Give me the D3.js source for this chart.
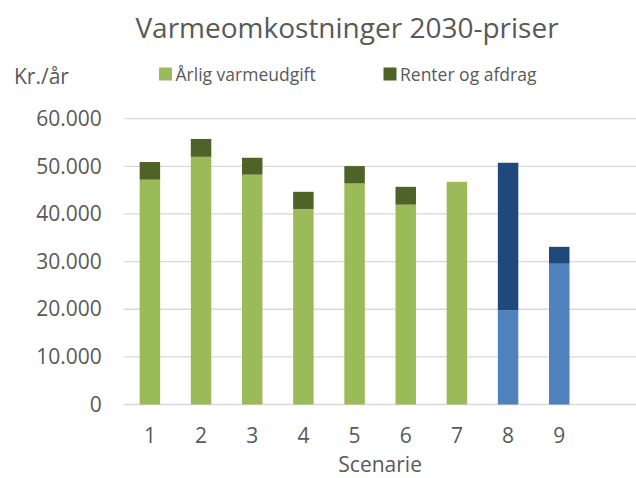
<!DOCTYPE html>
<html>
<head>
<meta charset="utf-8">
<script src="https://cdn.jsdelivr.net/npm/d3@7"></script>
<style>
  body { margin: 0; background: #fff; }
  text { font-family: 'Open Sans', sans-serif; fill: #595959; }
</style>
</head>
<body>
<div id="chart"></div>
<script>
const WIDTH = 636;
const HEIGHT = 478;
const PLOT = { LEFT: 124.3, RIGHT: 636, TOP: 118.7, BOTTOM: 404.5 };

// data
const scenarier = ['1', '2', '3', '4', '5', '6', '7', '8', '9', ''];
const aarligVarmeudgift = [47200, 52000, 48250, 41050, 46400, 41950, 46750, 19750, 29550];
const renterOgAfdrag = [3700, 3750, 3550, 3600, 3650, 3750, 0, 31000, 3550];
const blaaScenarier = ['8', '9'];
const yTicks = [0, 10000, 20000, 30000, 40000, 50000, 60000];
const serier = ['Årlig varmeudgift', 'Renter og afdrag'];

const GREEN = '#9bbb59';
const DARK_GREEN = '#4f6228';
const BLUE = '#4f81bd';
const DARK_BLUE = '#1f497d';

const fmt = d3.formatLocale({ decimal: ',', thousands: '.', grouping: [3], currency: ['', ''] }).format(',');

const svg = d3.select('#chart')
  .append('svg')
    .attr('width', WIDTH)
    .attr('height', HEIGHT);

const x = d3.scaleBand()
  .domain(scenarier)
  .range([PLOT.LEFT, PLOT.RIGHT])
  .paddingInner(0.6)
  .paddingOuter(0.3);

const y = d3.scaleLinear()
  .domain([0, 60000])
  .range([PLOT.BOTTOM, PLOT.TOP]);

// gridlines
svg.append('g')
  .selectAll('line')
  .data(yTicks)
  .enter()
  .append('line')
    .attr('x1', PLOT.LEFT)
    .attr('x2', PLOT.RIGHT)
    .attr('y1', d => y(d))
    .attr('y2', d => y(d))
    .attr('stroke', '#d9d9d9')
    .attr('stroke-width', 1.3);

// stacked bars
const rows = aarligVarmeudgift.map((v, i) => ({
  scenarie: scenarier[i],
  base: v,
  top: renterOgAfdrag[i],
  blaa: blaaScenarier.includes(scenarier[i])
}));

const bars = svg.append('g')
  .selectAll('g')
  .data(rows)
  .enter()
  .append('g');

bars.append('rect')
  .attr('x', d => x(d.scenarie))
  .attr('width', x.bandwidth())
  .attr('y', d => y(d.base))
  .attr('height', d => y(0) - y(d.base))
  .attr('fill', d => d.blaa ? BLUE : GREEN);

bars.filter(d => d.top > 0)
  .append('rect')
  .attr('x', d => x(d.scenarie))
  .attr('width', x.bandwidth())
  .attr('y', d => y(d.base + d.top))
  .attr('height', d => y(d.base) - y(d.base + d.top))
  .attr('fill', d => d.blaa ? DARK_BLUE : DARK_GREEN);

// axes
const yAxis = svg.append('g')
  .attr('transform', `translate(${PLOT.LEFT},0)`)
  .call(d3.axisLeft(y).tickValues(yTicks).tickFormat(fmt).tickSize(0).tickPadding(22.6));

const xAxis = svg.append('g')
  .attr('transform', `translate(0,${PLOT.BOTTOM})`)
  .call(d3.axisBottom(x).tickValues(scenarier.slice(0, 9)).tickSize(0).tickPadding(23.6));

[yAxis, xAxis].forEach(a => {
  a.select('.domain').remove();
  a.selectAll('text')
    .attr('fill', '#595959')
    .style('font-family', "'Open Sans', sans-serif")
    .style('font-size', '21px');
});

// titles
svg.append('text')
  .attr('x', 347)
  .attr('y', 38.3)
  .attr('text-anchor', 'middle')
  .style('font-size', '28px')
  .text('Varmeomkostninger 2030-priser');

svg.append('text')
  .attr('x', 14)
  .attr('y', 84)
  .style('font-size', '21px')
  .text('Kr./år');

svg.append('text')
  .attr('x', (PLOT.LEFT + PLOT.RIGHT) / 2)
  .attr('y', 472)
  .attr('text-anchor', 'middle')
  .style('font-size', '21px')
  .text('Scenarie');

// legend
const legendX = [159, 383.5];
const legend = svg.append('g')
  .selectAll('g')
  .data(serier)
  .enter()
  .append('g')
    .attr('transform', (d, i) => `translate(${legendX[i]}, 67.5)`);

legend.append('rect')
  .attr('width', 13)
  .attr('height', 13)
  .attr('fill', (d, i) => [GREEN, DARK_GREEN][i]);

legend.append('text')
  .attr('x', 16.5)
  .attr('y', 13)
  .style('font-size', '17.5px')
  .text(d => d);
</script>
</body>
</html>
